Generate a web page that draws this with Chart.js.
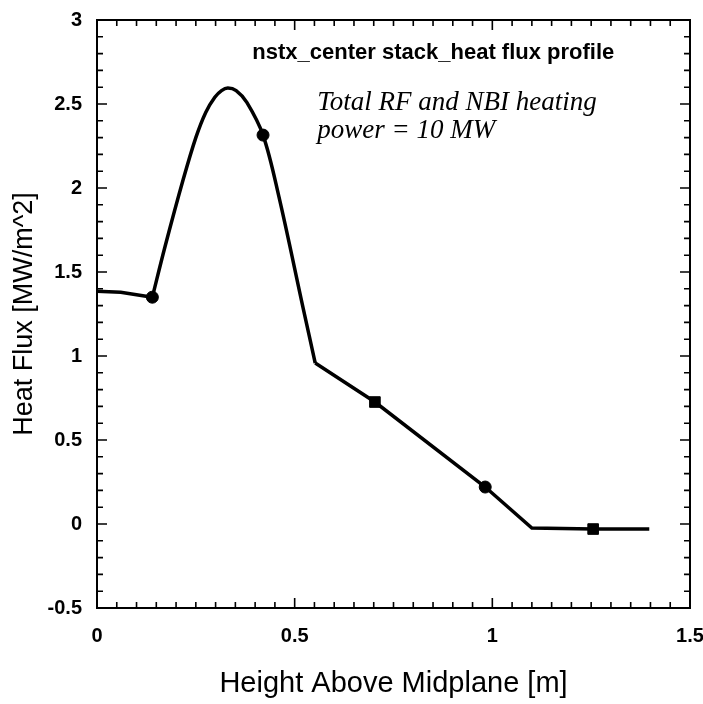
<!DOCTYPE html>
<html>
<head>
<meta charset="utf-8">
<script src="https://cdn.jsdelivr.net/npm/chart.js@4.4.0/dist/chart.umd.min.js"></script>
<style>
    html, body { margin: 0; padding: 0; background: #fff; }
    #wrap { width: 703px; height: 704px; }
</style>
</head>
<body>
<div id="wrap"><canvas id="chart"></canvas></div>
<script>
// heat flux profile along the center stack
// flat start, then the smooth peak, then straight segments
const startX = [0, 0.06, 0.14];
const startY = [1.385, 1.38, 1.35];
const peakX  = [0.14, 0.172, 0.218, 0.25, 0.275, 0.298, 0.315, 0.331, 0.352, 0.379, 0.42, 0.46, 0.521, 0.552];
const peakY  = [1.35, 1.65, 2.05, 2.3, 2.45, 2.54, 2.58, 2.595, 2.58, 2.51, 2.315, 1.95, 1.29, 0.958];
const tailX  = [0.552, 0.703, 0.982, 1.10, 1.255, 1.397];
const tailY  = [0.958, 0.726, 0.22, -0.024, -0.03, -0.03];

// plotted symbols on the curve
const markerX = [0.14, 0.42, 0.703, 0.982, 1.255];
const markerY = [1.35, 2.315, 0.726, 0.22, -0.03];
const markerStyle = ['circle', 'circle', 'rect', 'circle', 'rect'];

// axes
const xTicks = [0, 0.5, 1, 1.5];
const yTicks = [-0.5, 0, 0.5, 1, 1.5, 2, 2.5, 3];

const titleText = 'nstx_center stack_heat flux profile';
const noteLines = ['Total RF and NBI heating', 'power = 10 MW'];

const SANS = '"Liberation Sans", Arial, Helvetica, sans-serif';
const SERIF = '"Liberation Serif", "Times New Roman", serif';

const toPoints = (xs, ys) => xs.map((x, i) => ({ x: x, y: ys[i] }));

// frame + inward ticks on all four sides, plus the text notes
const framePlugin = {
    id: 'frame',
    afterDraw(chart) {
        const { ctx, chartArea: a, scales } = chart;
        const sx = scales.x, sy = scales.y;
        ctx.save();
        ctx.strokeStyle = '#000';
        ctx.lineWidth = 2;
        ctx.strokeRect(a.left, a.top, a.right - a.left, a.bottom - a.top);

        ctx.lineWidth = 1.6;
        ctx.beginPath();
        for (let i = 0; i <= 30; i++) {
            const px = sx.getPixelForValue(i * 0.05);
            const len = (i % 10 === 0) ? 10 : 6;
            ctx.moveTo(px, a.bottom); ctx.lineTo(px, a.bottom - len);
            ctx.moveTo(px, a.top); ctx.lineTo(px, a.top + len);
        }
        for (let i = 0; i <= 35; i++) {
            const py = sy.getPixelForValue(-0.5 + i * 0.1);
            const len = (i % 5 === 0) ? 10 : 6;
            ctx.moveTo(a.left, py); ctx.lineTo(a.left + len, py);
            ctx.moveTo(a.right, py); ctx.lineTo(a.right - len, py);
        }
        ctx.stroke();

        ctx.fillStyle = '#000';
        ctx.textBaseline = 'alphabetic';
        ctx.font = 'bold 22px ' + SANS;
        ctx.fillText(titleText, sx.getPixelForValue(0.393), sy.getPixelForValue(2.765), 372);

        ctx.font = 'italic 27px ' + SERIF;
        ctx.fillText(noteLines[0], sx.getPixelForValue(0.557), sy.getPixelForValue(2.465), 288);
        ctx.fillText(noteLines[1], sx.getPixelForValue(0.557), sy.getPixelForValue(2.30));
        ctx.restore();
    }
};

const lineStyle = {
    showLine: true,
    borderColor: '#000',
    borderWidth: 3.5,
    pointRadius: 0,
    order: 1
};

const ctx = document.getElementById('chart').getContext('2d');
new Chart(ctx, {
    type: 'scatter',
    data: {
        datasets: [
            {
                label: 'symbols',
                data: toPoints(markerX, markerY),
                showLine: false,
                pointStyle: markerStyle,
                pointRadius: markerStyle.map(s => s === 'rect' ? 7.5 : 6),
                backgroundColor: '#000',
                borderColor: '#000',
                order: 0
            },
            Object.assign({ label: 'start', data: toPoints(startX, startY), tension: 0 }, lineStyle),
            Object.assign({ label: 'peak', data: toPoints(peakX, peakY), tension: 0.35 }, lineStyle),
            Object.assign({ label: 'tail', data: toPoints(tailX, tailY), tension: 0 }, lineStyle)
        ]
    },
    options: {
        responsive: true,
        maintainAspectRatio: false,
        animation: false,
        layout: { padding: { top: 20, right: 13, left: 0, bottom: 0 } },
        plugins: {
            legend: { display: false },
            tooltip: { enabled: false }
        },
        scales: {
            x: {
                type: 'linear',
                min: 0,
                max: 1.5,
                afterBuildTicks: (s) => { s.ticks = xTicks.map(v => ({ value: v })); },
                afterFit: (s) => { s.height = 96; s.paddingLeft = 0; s.paddingRight = 0; },
                grid: { display: false, drawTicks: false },
                border: { display: false },
                ticks: {
                    color: '#000',
                    padding: 16,
                    maxRotation: 0,
                    callback: (v) => String(v),
                    font: { family: SANS, size: 20, weight: 'bold' }
                },
                title: {
                    display: true,
                    text: 'Height Above Midplane [m]',
                    color: '#000',
                    padding: { top: 4, bottom: 3 },
                    font: { family: SANS, size: 29 }
                }
            },
            y: {
                type: 'linear',
                min: -0.5,
                max: 3,
                afterBuildTicks: (s) => { s.ticks = yTicks.map(v => ({ value: v })); },
                afterFit: (s) => { s.width = 97; s.paddingTop = 0; s.paddingBottom = 0; },
                grid: { display: false, drawTicks: false },
                border: { display: false },
                ticks: {
                    color: '#000',
                    padding: 15,
                    callback: (v) => String(v),
                    font: { family: SANS, size: 20, weight: 'bold' }
                },
                title: {
                    display: true,
                    text: 'Heat Flux [MW/m^2]',
                    color: '#000',
                    padding: { top: 8, bottom: 4 },
                    font: { family: SANS, size: 27 }
                }
            }
        }
    },
    plugins: [framePlugin]
});
</script>
</body>
</html>
